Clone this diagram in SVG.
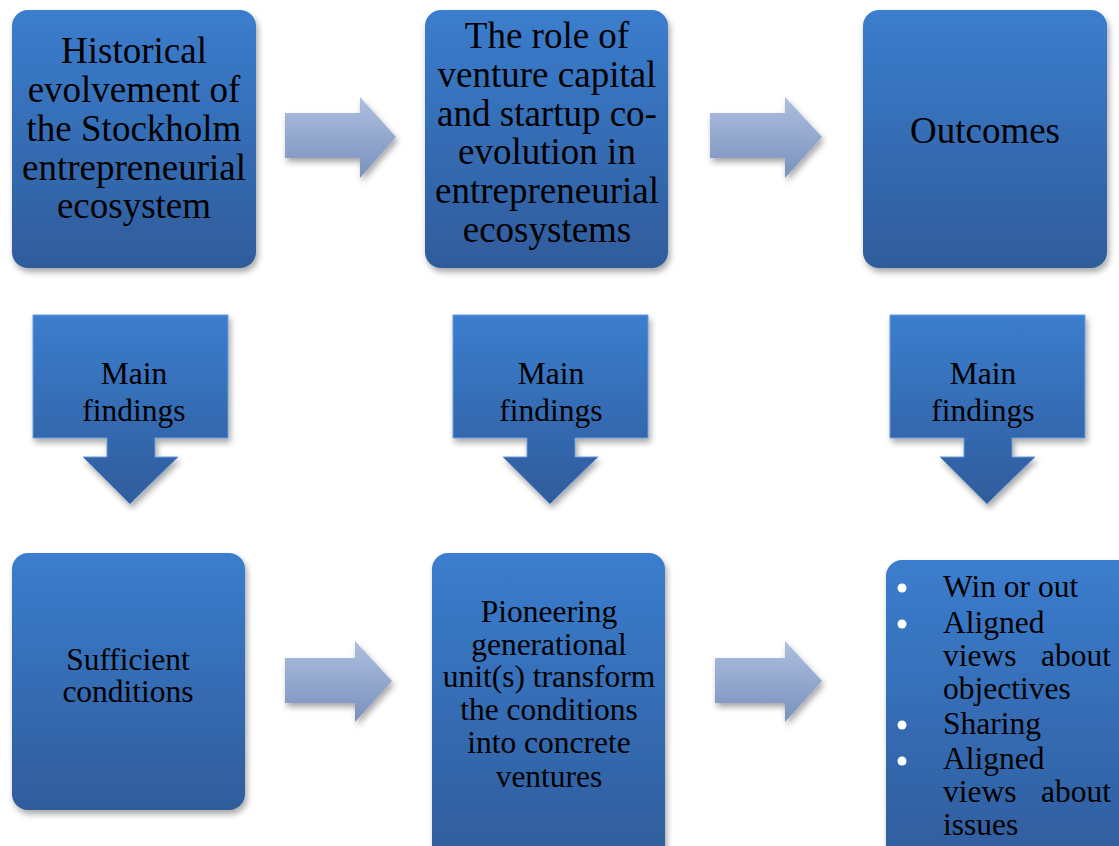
<svg xmlns="http://www.w3.org/2000/svg" width="1119" height="846" viewBox="0 0 1119 846">
<defs>
<linearGradient id="boxg" x1="0" y1="0" x2="0" y2="1">
<stop offset="0" stop-color="#3b7dce"/>
<stop offset="1" stop-color="#2f5c9b"/>
</linearGradient>
<linearGradient id="arrg" x1="0" y1="0" x2="0" y2="1">
<stop offset="0" stop-color="#aebfdf"/>
<stop offset="1" stop-color="#7a91bd"/>
</linearGradient>
<filter id="sh" x="-10%" y="-10%" width="120%" height="120%">
<feDropShadow dx="2" dy="4" stdDeviation="3" flood-color="#000" flood-opacity="0.35"/>
</filter>
</defs>
<style>
.box{fill:url(#boxg);filter:url(#sh);}
.arr{fill:url(#arrg);filter:url(#sh);}
.call{fill:url(#boxg);stroke:#6a9bd8;stroke-width:1;filter:url(#sh);}
.t{font-family:"Liberation Serif","Times New Roman",serif;fill:#000;text-anchor:middle;}
.big{font-size:37px;}
.mid{font-size:31.5px;}
.bl{font-family:"Liberation Serif","Times New Roman",serif;fill:#000;font-size:31.5px;}
</style>
<rect width="1119" height="846" fill="#fff"/>
<g id="connectors">
<polygon class="arr" points="285,113 360,113 360,97 396,137 360,178 360,158 285,158"/>
<polygon class="arr" points="710,113 785,113 785,97 822,137 785,178 785,158 710,158"/>
<polygon class="arr" points="285,658 355,658 355,641 392,681 355,722 355,703 285,703"/>
<polygon class="arr" points="715,658 785,658 785,641 822,681 785,722 785,703 715,703"/>
</g>
<g id="node-historical">
<rect class="box" x="12" y="10" width="244" height="258" rx="16"/>
<text class="t big"><tspan x="134" y="63">Historical</tspan><tspan x="134" y="102">evolvement of</tspan><tspan x="134" y="141">the Stockholm</tspan><tspan x="134" y="180">entrepreneurial</tspan><tspan x="134" y="218">ecosystem</tspan></text>
</g>
<g id="node-role">
<rect class="box" x="425" y="10" width="243" height="258" rx="16"/>
<text class="t big"><tspan x="547" y="48">The role of</tspan><tspan x="547" y="87">venture capital</tspan><tspan x="547" y="126">and startup co-</tspan><tspan x="547" y="164">evolution in</tspan><tspan x="547" y="203">entrepreneurial</tspan><tspan x="547" y="242">ecosystems</tspan></text>
</g>
<g id="node-outcomes">
<rect class="box" x="863" y="10" width="244" height="258" rx="16"/>
<text class="t big" x="985" y="143">Outcomes</text>
</g>
<g id="callout-1">
<polygon class="call" points="33,315 228,315 228,438 155,438 155,457 178,457 130,504 83,457 107,457 107,438 33,438"/>
<text class="t mid"><tspan x="134" y="384">Main</tspan><tspan x="134" y="421">findings</tspan></text>
</g>
<g id="callout-2">
<polygon class="call" points="453,315 648,315 648,438 575,438 575,457 598,457 550,504 503,457 527,457 527,438 453,438"/>
<text class="t mid"><tspan x="551" y="384">Main</tspan><tspan x="551" y="421">findings</tspan></text>
</g>
<g id="callout-3">
<polygon class="call" points="890,315 1085,315 1085,438 1012,438 1012,457 1035,457 987,504 940,457 964,457 964,438 890,438"/>
<text class="t mid"><tspan x="983" y="384">Main</tspan><tspan x="983" y="421">findings</tspan></text>
</g>
<g id="node-sufficient">
<rect class="box" x="12" y="553" width="233" height="257" rx="16"/>
<text class="t mid"><tspan x="128" y="670">Sufficient</tspan><tspan x="128" y="702">conditions</tspan></text>
</g>
<g id="node-pioneering">
<rect class="box" x="432" y="553" width="233" height="310" rx="16"/>
<text class="t mid"><tspan x="549" y="622">Pioneering</tspan><tspan x="549" y="655">generational</tspan><tspan x="549" y="687">unit(s) transform</tspan><tspan x="549" y="720">the conditions</tspan><tspan x="549" y="753">into concrete</tspan><tspan x="549" y="787">ventures</tspan></text>
</g>
<g id="node-list">
<rect class="box" x="886" y="560" width="250" height="310" rx="16"/>
<g fill="#fff">
<circle cx="902" cy="588" r="4.5"/>
<circle cx="902" cy="624" r="4.5"/>
<circle cx="902" cy="725" r="4.5"/>
<circle cx="902" cy="761" r="4.5"/>
</g>
<text class="bl" x="943" y="597">Win or out</text>
<text class="bl" x="943" y="633">Aligned</text>
<text class="bl" x="943" y="666">views</text>
<text class="bl" x="1111" y="666" text-anchor="end">about</text>
<text class="bl" x="943" y="699">objectives</text>
<text class="bl" x="943" y="734">Sharing</text>
<text class="bl" x="943" y="769">Aligned</text>
<text class="bl" x="943" y="802">views</text>
<text class="bl" x="1111" y="802" text-anchor="end">about</text>
<text class="bl" x="943" y="835">issues</text>
</g>
</svg>
